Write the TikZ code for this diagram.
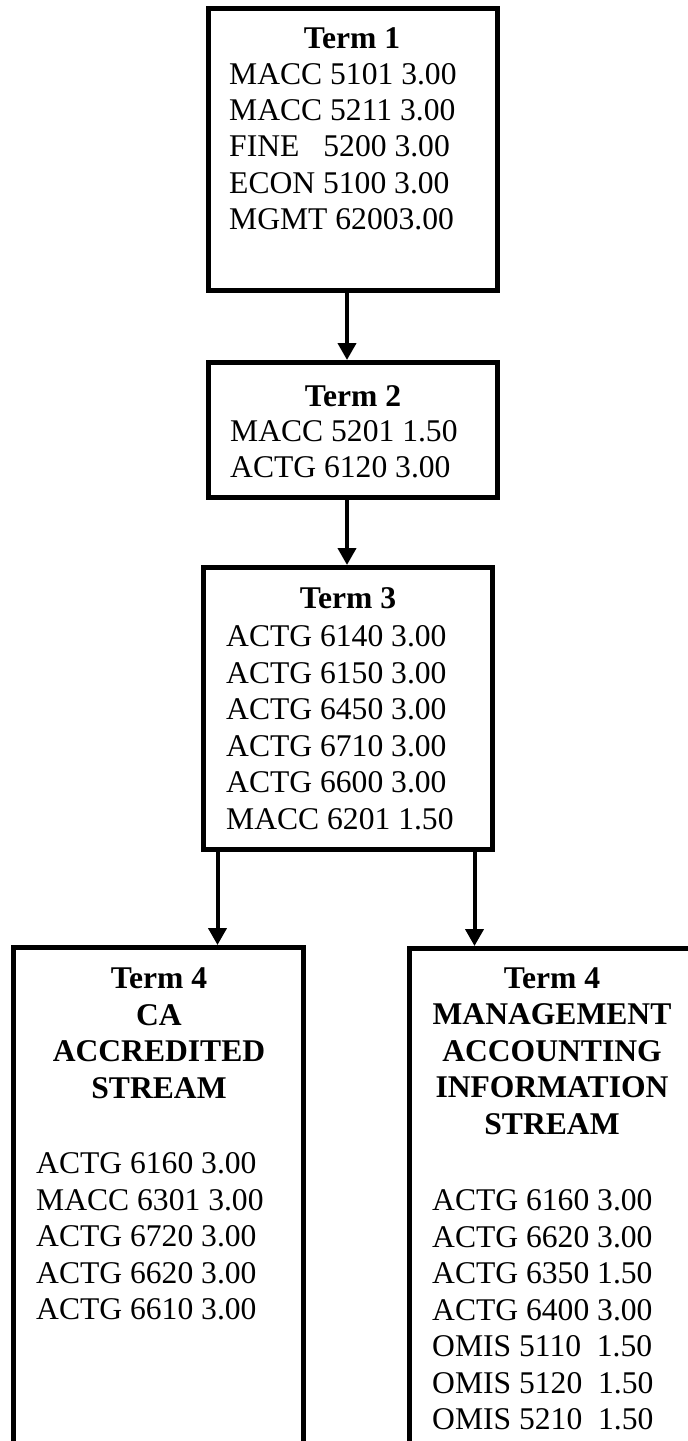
\documentclass[tikz,border=0pt]{standalone}
\usepackage{fontspec}
\setmainfont{Liberation Serif}
\usetikzlibrary{arrows.meta}
\begin{document}
\begin{tikzpicture}[x=1pt,y=-1pt,
  box/.style={draw=black, line width=5pt, fill=white, inner sep=0pt},
  txt/.style={inner sep=0pt, font=\fontsize{31.6}{36.5}\selectfont},
  ttl/.style={inner sep=0pt, font=\fontsize{31.6}{36.5}\selectfont\bfseries},
  arr/.style={draw=black, line width=4pt, -{Triangle[width=18pt,length=17pt]}}]
\useasboundingbox (0,0) rectangle (688,1441);
\clip (0,0) rectangle (688,1441);
% boxes
\node[box, minimum width=289pt, minimum height=282pt] (t1) at (353,149.5) {};
\node[box, minimum width=289pt, minimum height=135pt] (t2) at (353,430) {};
\node[box, minimum width=289pt, minimum height=282pt] (t3) at (348,708.5) {};
\node[box, minimum width=290pt, minimum height=552.5pt] (t4a) at (158.5,1223.75) {};
\node[box, minimum width=285pt, minimum height=551.5pt] (t4b) at (551.5,1224.25) {};
% arrows
\draw[arr] ([xshift=-6pt]t1.south) -- ([xshift=-6pt]t2.north);
\draw[arr] ([xshift=-6pt]t2.south) -- ([xshift=-1pt]t3.north);
\draw[arr] ([xshift=16.5pt]t3.south west) -- ([xshift=16.5pt]t3.south west |- t4a.north);
\draw[arr] ([xshift=-20.5pt]t3.south east) -- ([xshift=-20.5pt]t3.south east |- t4b.north);
% Term 1
\node[ttl, anchor=base] (t1t) at (352,48.5) {Term 1};
\foreach \s [count=\i] in {MACC 5101 3.00, MACC 5211 3.00, FINE\hspace{24pt}5200 3.00, ECON 5100 3.00, MGMT 62003.00}
  \node[txt, anchor=base west] (t1b\i) at (229,{84+36.4*(\i-1)}) {\s};
% Term 2
\node[ttl, anchor=base] (t2t) at (353,406) {Term 2};
\foreach \s [count=\i] in {MACC 5201 1.50, ACTG 6120 3.00}
  \node[txt, anchor=base west] (t2b\i) at (230,{441.5+36.4*(\i-1)}) {\s};
% Term 3
\node[ttl, anchor=base] (t3t) at (348,608.5) {Term 3};
\foreach \s [count=\i] in {ACTG 6140 3.00, ACTG 6150 3.00, ACTG 6450 3.00, ACTG 6710 3.00, ACTG 6600 3.00, MACC 6201 1.50}
  \node[txt, anchor=base west] (t3b\i) at (226,{646.5+36.6*(\i-1)}) {\s};
% Term 4 left
\foreach \s [count=\i] in {Term 4, CA, ACCREDITED, STREAM}
  \node[ttl, anchor=base] (t4at\i) at (159,{988.5+36.7*(\i-1)}) {\s};
\foreach \s [count=\i] in {ACTG 6160 3.00, MACC 6301 3.00, ACTG 6720 3.00, ACTG 6620 3.00, ACTG 6610 3.00}
  \node[txt, anchor=base west] (t4ab\i) at (36,{1173.5+36.6*(\i-1)}) {\s};
% Term 4 right
\foreach \s [count=\i] in {Term 4, MANAGEMENT, ACCOUNTING, INFORMATION, STREAM}
  \node[ttl, anchor=base] (t4bt\i) at (552,{988.5+36.4*(\i-1)}) {\s};
\foreach \s [count=\i] in {ACTG 6160 3.00, ACTG 6620 3.00, ACTG 6350 1.50, ACTG 6400 3.00, OMIS 5110\ \ 1.50, OMIS 5120\ \ 1.50, OMIS 5210\ \ 1.50}
  \node[txt, anchor=base west] (t4bb\i) at (432,{1210.5+36.5*(\i-1)}) {\s};
\end{tikzpicture}
\end{document}
